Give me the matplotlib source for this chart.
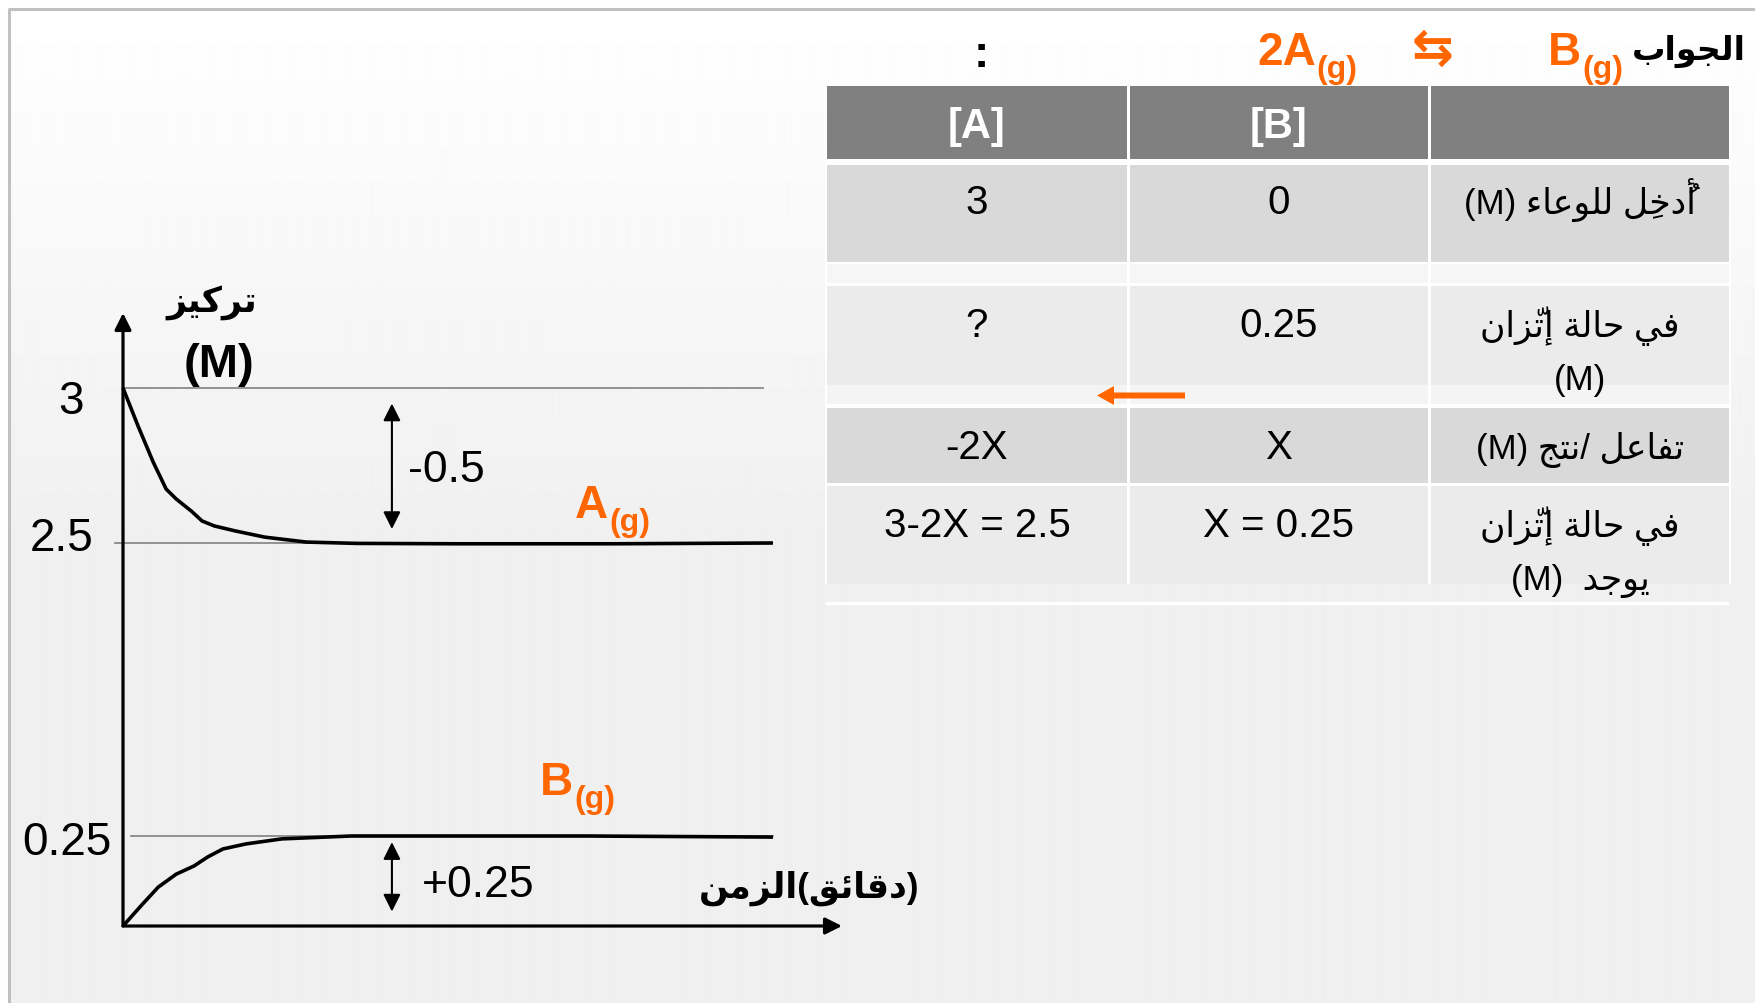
import re
import numpy as np
import matplotlib
matplotlib.use("Agg")
import matplotlib.pyplot as plt
from matplotlib.patches import Rectangle, FancyArrow

W, H, DPI = 1756, 1004, 100

# ---------------- data ----------------
time_A = [0, 0.21, 0.42, 0.60, 0.74, 0.95, 1.10, 1.27, 1.56, 1.97, 2.55, 3.25, 4.67, 6.80, 9.04]
conc_A = [3.0, 2.877, 2.761, 2.674, 2.642, 2.603, 2.571, 2.555, 2.539, 2.519, 2.503, 2.497, 2.494, 2.494, 2.5]
time_B = [0, 0.25, 0.49, 0.74, 0.99, 1.18, 1.39, 1.71, 2.21, 3.18, 4.81, 6.45, 9.04]
conc_B = [0, 0.056, 0.108, 0.144, 0.167, 0.192, 0.214, 0.228, 0.242, 0.25, 0.25, 0.25, 0.247]
ref_levels = [3, 2.5, 0.25]
ref_labels = ["3", "2.5", "0.25"]
change_A = "-0.5"
change_B = "+0.25"
arrow_A_span = (2.545, 2.95)
arrow_B_span = (0.04, 0.233)
arrow_time = 3.74

col_headers = ["[A]", "[B]", ""]
col_A = ["3", "?", "-2X", "3-2X = 2.5"]
col_B = ["0", "0.25", "X", "X = 0.25"]
row_labels = ["أُدخِل للوعاء (M)", "في حالة إتّزان\n(M)", "تفاعل /نتج (M)", "في حالة إتّزان\nيوجد  (M)"]

title_word = "الجواب"
y_label = "تركيز"
y_unit = "(M)"
x_label = "(دقائق)الزمن"

ORANGE = "#FF6600"
LATIN = ["Liberation Sans", "DejaVu Sans"]

# ---------------- minimal Arabic shaping + RTL ordering ----------------
AR = {}
for ch, b in [("\u0622", 0xFE81), ("\u0623", 0xFE83), ("\u0624", 0xFE85), ("\u0625", 0xFE87),
              ("\u0627", 0xFE8D), ("\u0629", 0xFE93), ("\u062F", 0xFEA9), ("\u0630", 0xFEAB),
              ("\u0631", 0xFEAD), ("\u0632", 0xFEAF), ("\u0648", 0xFEED), ("\u0649", 0xFEEF)]:
    AR[ch] = (chr(b), chr(b + 1), None, None)
for ch, b in [("\u0626", 0xFE89), ("\u0628", 0xFE8F), ("\u062A", 0xFE95), ("\u062B", 0xFE99),
              ("\u062C", 0xFE9D), ("\u062D", 0xFEA1), ("\u062E", 0xFEA5), ("\u0633", 0xFEB1),
              ("\u0634", 0xFEB5), ("\u0635", 0xFEB9), ("\u0636", 0xFEBD), ("\u0637", 0xFEC1),
              ("\u0638", 0xFEC5), ("\u0639", 0xFEC9), ("\u063A", 0xFECD), ("\u0641", 0xFED1),
              ("\u0642", 0xFED5), ("\u0643", 0xFED9), ("\u0644", 0xFEDD), ("\u0645", 0xFEE1),
              ("\u0646", 0xFEE5), ("\u0647", 0xFEE9), ("\u064A", 0xFEF1)]:
    AR[ch] = (chr(b), chr(b + 1), chr(b + 2), chr(b + 3))
AR["\u0621"] = ("\uFE80", None, None, None)
LAM_ALEF = {"\u0622": 0xFEF5, "\u0623": 0xFEF7, "\u0625": 0xFEF9, "\u0627": 0xFEFB}


def is_mark(c):
    return "\u064B" <= c <= "\u065F" or c == "\u0670"


def shape(text):
    chars = list(text)
    n = len(chars)

    def nb(i, step):
        j = i + step
        while 0 <= j < n and is_mark(chars[j]):
            j += step
        return j if 0 <= j < n else None

    out, skip = [], set()
    for i, c in enumerate(chars):
        if i in skip:
            continue
        if c not in AR:
            out.append(c)
            continue
        p, q = nb(i, -1), nb(i, 1)
        jp = p is not None and chars[p] in AR and AR[chars[p]][2] is not None and AR[c][1] is not None
        if c == "\u0644" and q is not None and chars[q] in LAM_ALEF:
            out.append(chr(LAM_ALEF[chars[q]] + (1 if jp else 0)))
            skip.add(q)
            continue
        jn = q is not None and chars[q] in AR and AR[c][2] is not None and AR[chars[q]][1] is not None
        f = AR[c]
        out.append(f[3] if (jp and jn) else f[1] if jp else f[2] if jn else f[0])
    return "".join(out)


def visual(text):
    lines = []
    for line in text.split("\n"):
        s = shape(line)
        units = re.findall(r"\([A-Za-z]+\)|[A-Za-z0-9.=+\-?]+|.", s)
        grouped = []
        for u in units:
            if len(u) == 1 and is_mark(u) and grouped:
                grouped[-1] = u + grouped[-1]
            else:
                grouped.append(u)
        mirror = {"(": ")", ")": "("}
        lines.append("".join(mirror.get(u, u) for u in reversed(grouped)))
    return lines


# ---------------- figure & background ----------------
fig = plt.figure(figsize=(W / DPI, H / DPI), dpi=DPI)
fig.patch.set_facecolor("white")
bg = fig.add_axes([0, 0, 1, 1])
bg.axis("off")
ys = np.arange(10, H)
g = 255 - 15 * np.clip((ys - 10) / 520.0, 0, 1)
bg.imshow(np.repeat(g[:, None], 2, axis=1), cmap="gray", vmin=0, vmax=255,
          extent=(9, W, H, 10), aspect="auto", interpolation="bilinear", zorder=0)
bg.set_xlim(0, W)
bg.set_ylim(H, 0)
bg.plot([8, W], [10, 10], color="#c0c0c0", lw=2.2, zorder=1, solid_capstyle="butt")
bg.plot([9, 9], [10, H], color="#c0c0c0", lw=2.2, zorder=1, solid_capstyle="butt")

renderer = fig.canvas.get_renderer()


def put(x, y, s, size, color="black", weight="normal", ha="left", family=LATIN):
    return bg.text(x, y, s, fontsize=size, color=color, fontweight=weight, ha=ha,
                   va="baseline", family=family, zorder=5)


def put_sub(x, y, main, sub, size, subsize, drop, color=ORANGE):
    t = put(x, y, main, size, color=color, weight="bold")
    ext = t.get_window_extent(renderer=renderer)
    put(ext.x1 + 1, y + drop, sub, subsize, color=color, weight="bold")


# ---------------- title line ----------------
put(1746, 60, visual(title_word)[0], 24, weight="bold", ha="right")
put_sub(1548, 65, "B", "(g)", 33, 23, 13)
bg.text(1433, 50, "\u21C6", fontsize=36, color=ORANGE, fontweight="bold", ha="center",
        va="center", family=["DejaVu Sans"], zorder=5)
put_sub(1257, 65, "2A", "(g)", 33, 23, 13)
put(981, 67, ":", 33, weight="bold", ha="center")

# ---------------- table ----------------
cols = [(827, 1127), (1130, 1428), (1431, 1729)]
bands = [(87, 160, "#808080"), (166, 263, "#d9d9d9"), (265, 284, "#f6f6f6"),
         (287, 386, "#ebebeb"), (386, 405, "#f4f4f4"), (409, 484, "#d9d9d9"),
         (487, 585, "#ebebeb")]
bg.add_patch(Rectangle((825, 87), 906, 498, facecolor="white", edgecolor="none", zorder=2))
for (t0, t1, c) in bands:
    for (c0, c1) in cols:
        bg.add_patch(Rectangle((c0, t0), c1 - c0, t1 - t0, facecolor=c, edgecolor="none", zorder=3))
bg.plot([827, 1727], [604, 604], color="white", lw=2.4, zorder=3)

centers = [(c0 + c1) / 2 for (c0, c1) in cols]
for cx, lab in zip(centers, col_headers):
    if lab:
        put(cx, 138, lab, 30, color="white", weight="bold", ha="center")

row_base = [214, 337, 459, 537]
row_second = [None, 390, None, 590]
for i in range(4):
    put(centers[0], row_base[i], col_A[i], 29, ha="center")
    put(centers[1], row_base[i], col_B[i], 29, ha="center")
    lines = visual(row_labels[i])
    put(centers[2], row_base[i], lines[0], 25, ha="center")
    if len(lines) > 1:
        put(centers[2], row_second[i], lines[1], 25, ha="center")

bg.add_patch(FancyArrow(1185, 396.5, -88, 0, width=6, head_width=19, head_length=17,
                        length_includes_head=True, color=ORANGE, lw=0, zorder=4))

# ---------------- chart ----------------
anc_v = [-1, 0, 0.25, 2.5, 3, 3.25, 4.25]
anc_h = [-360, 0, 90, 383, 538, 613, 913]


def fwd(v):
    return np.interp(v, anc_v, anc_h)


def inv(h):
    return np.interp(h, anc_h, anc_v)


x0, y0, x1, y1 = 123, 314, 842, 927
ax = fig.add_axes([x0 / W, 1 - y1 / H, (x1 - x0) / W, (y1 - y0) / H])
ax.patch.set_alpha(0)
ax.set_yscale("function", functions=(fwd, inv))
ax.set_xlim(0, 10)
ax.set_ylim(0, 3.25)
ax.axis("off")

ref_x = [(0, 8.9), (-0.11, 8.83), (0.11, 9.04)]
for lvl, (a, b) in zip(ref_levels, ref_x):
    ax.plot([a, b], [lvl, lvl], color="#8a8a8a", lw=1.3, clip_on=False, zorder=2)

ax.plot(time_A, conc_A, color="black", lw=2.6, clip_on=False, zorder=3,
        solid_joinstyle="round", solid_capstyle="butt")
ax.plot(time_B, conc_B, color="black", lw=2.6, clip_on=False, zorder=3,
        solid_joinstyle="round", solid_capstyle="butt")

arrow_kw = dict(arrowstyle="-|>", lw=2.3, color="black", mutation_scale=25, shrinkA=0, shrinkB=0)
ax.annotate("", xy=(0, 1), xytext=(0, 0), xycoords="axes fraction", arrowprops=arrow_kw,
            annotation_clip=False)
ax.annotate("", xy=(1, 0), xytext=(0, 0), xycoords="axes fraction", arrowprops=arrow_kw,
            annotation_clip=False)

dbl = dict(arrowstyle="<|-|>", lw=1.5, color="black", mutation_scale=26, shrinkA=0, shrinkB=0)
ax.annotate("", xy=(arrow_time, arrow_A_span[1]), xytext=(arrow_time, arrow_A_span[0]),
            arrowprops=dbl, annotation_clip=False)
ax.annotate("", xy=(arrow_time, arrow_B_span[1]), xytext=(arrow_time, arrow_B_span[0]),
            arrowprops=dbl, annotation_clip=False)

tick_off = [(-52, -25), (-61, -7), (-56, -18)]
for lvl, lab, (dx, dy) in zip(ref_levels, ref_labels, tick_off):
    ax.annotate(lab, xy=(0, lvl), xytext=(dx, dy), textcoords="offset pixels",
                ha="center", va="baseline", fontsize=33, family=LATIN, annotation_clip=False)

put(408, 482, change_A, 32)
put(422, 897, change_B, 32)
put_sub(575, 518, "A", "(g)", 33, 23, 13)
put_sub(540, 795, "B", "(g)", 33, 23, 13)

put(212, 312, visual(y_label)[0], 25, weight="bold", ha="center")
put(219, 377, y_unit, 34, weight="bold", ha="center")
put(809, 898, visual(x_label)[0], 25, weight="bold", ha="center")

fig.savefig("out.png", dpi=DPI)
